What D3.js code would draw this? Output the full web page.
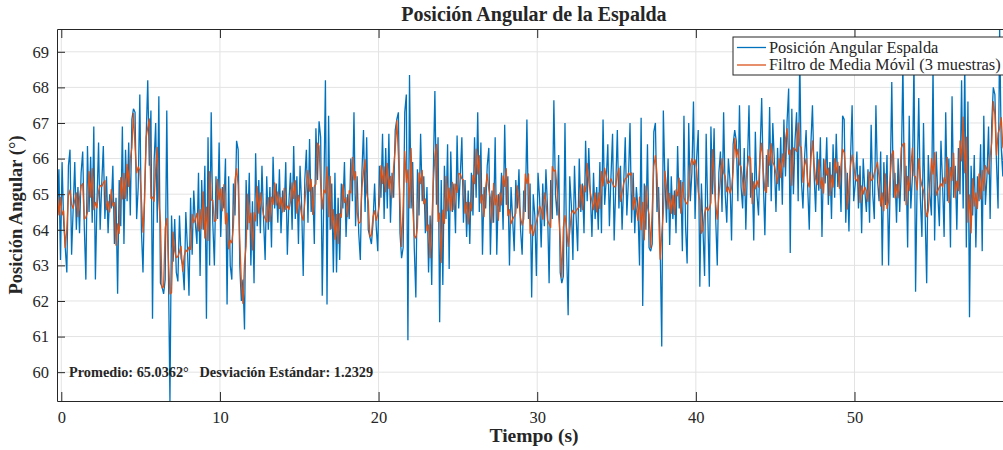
<!DOCTYPE html>
<html>
<head>
<meta charset="utf-8">
<script src="https://cdn.jsdelivr.net/npm/d3@7"></script>
<style>
  body { margin: 0; background: #fff; }
  text { font-family: "Liberation Serif", "Times New Roman", serif; fill: #262626; }
</style>
</head>
<body>
<script>
// Back angle signal, one sample every 0.1 s (one row per second)
const startTime = -0.25;
const sampleStep = 0.1;
const angle = [
  64.4, 65.7, 63.15, 65.9, 64.2, 63.5, 62.8, 65.8, 66.25, 63.3,
  64.6, 65.9, 64.0, 65.2, 63.9, 65.6, 66.2, 64.1, 62.6, 66.35,
  64.5, 66.05, 64.2, 66.9, 62.6, 64.8, 66.45, 64.0, 65.3, 66.35,
  64.3, 65.5, 63.9, 65.0, 64.6, 65.8, 63.6, 64.9, 62.2, 65.4,
  64.1, 66.9, 63.6, 66.25, 64.8, 66.45, 64.4, 67.1, 67.4, 67.3,
  64.3, 65.2, 67.8, 64.0, 62.8, 65.0, 66.6, 68.2, 65.8, 67.35,
  61.5, 65.9, 67.0, 64.2, 67.75, 62.5, 62.4, 62.2, 62.6, 67.35,
  63.0, 59.19, 64.4, 63.1, 64.3, 62.8, 62.55, 64.4, 63.2, 63.0,
  62.3, 64.5, 63.5, 62.15, 64.9, 63.3, 65.1, 64.2, 63.6, 65.6,
  62.7, 65.4, 64.0, 65.8, 61.5, 66.6, 63.0, 67.3, 64.2, 63.0,
  65.5, 64.3, 66.45, 63.8, 65.2, 64.6, 66.0, 61.9, 65.5, 63.0,
  62.6, 65.3, 64.4, 66.5, 66.25, 63.0, 62.0, 62.6, 61.2, 65.4,
  64.0, 65.6, 63.0, 64.8, 62.5, 66.15, 64.1, 65.4, 63.9, 65.8,
  64.3, 63.15, 65.5, 64.0, 65.2, 63.5, 66.05, 64.6, 65.3, 64.2,
  65.7, 63.9, 65.1, 64.5, 65.9, 63.3, 64.8, 65.6, 64.0, 66.35,
  64.3, 65.5, 63.6, 65.8, 64.7, 62.7, 65.4, 66.25, 64.2, 66.55,
  64.5, 65.2, 63.6, 66.85, 65.4, 67.05, 66.6, 62.15, 65.0, 68.2,
  61.9, 67.2, 64.0, 65.3, 62.8, 65.6, 62.8, 64.9, 63.15, 65.3,
  64.6, 65.9, 63.8, 65.0, 64.3, 66.0, 64.8, 67.3, 64.1, 65.5,
  63.9, 63.15, 65.6, 66.8, 64.5, 66.6, 64.0, 63.8, 63.6, 64.2,
  65.3, 64.1, 63.4, 65.8, 64.9, 66.7, 64.3, 66.3, 64.6, 66.7,
  64.2, 65.6, 64.9, 66.8, 67.1, 67.3, 63.9, 63.2, 63.5, 67.3,
  67.8, 60.9, 68.35, 64.6, 65.9, 63.5, 62.1, 65.7, 64.4, 66.7,
  64.8, 65.5, 63.9, 65.2, 62.8, 64.4, 62.45, 65.6, 67.9, 64.7,
  66.6, 61.4, 65.4, 62.45, 65.8, 64.3, 66.4, 62.9, 66.2, 64.5,
  65.3, 63.9, 66.65, 64.6, 65.5, 66.6, 64.2, 65.4, 63.8, 65.1,
  63.6, 65.6, 64.4, 66.6, 64.9, 67.3, 64.5, 66.45, 63.3, 65.2,
  64.6, 65.8, 66.3, 63.3, 65.1, 64.2, 66.6, 63.3, 65.0, 64.5,
  65.6, 64.0, 66.95, 64.7, 65.5, 63.0, 65.2, 64.3, 63.4, 65.4,
  64.6, 65.7, 64.0, 63.3, 65.1, 64.5, 67.1, 64.3, 65.3, 62.1,
  65.0, 64.4, 62.7, 65.6, 64.9, 63.5, 65.3, 64.1, 65.7, 64.6,
  62.5, 65.4, 64.3, 67.64, 65.0, 64.4, 66.1, 62.8, 62.5, 62.7,
  67.0, 63.5, 61.6, 65.5, 64.7, 63.15, 65.8, 64.4, 63.4, 66.0,
  64.5, 65.3, 63.9, 66.5, 64.8, 66.3, 65.0, 63.8, 65.6, 64.3,
  65.2, 64.0, 65.9, 63.9, 67.1, 64.7, 65.4, 66.4, 64.1, 65.5,
  66.7, 63.7, 65.2, 66.8, 64.6, 65.8, 64.0, 65.3, 66.6, 64.4,
  65.4, 67.0, 64.2, 65.6, 63.9, 65.2, 64.6, 63.0, 67.15, 61.86,
  65.3, 64.0, 66.4, 63.5, 63.4, 63.6, 66.75, 67.0, 64.5, 65.2,
  63.6, 60.72, 67.35, 65.4, 64.2, 66.0, 63.57, 65.5, 64.3, 65.1,
  63.9, 66.35, 64.6, 65.4, 63.4, 67.2, 64.1, 63.05, 67.0, 64.8,
  65.6, 67.6, 64.3, 66.0, 66.8, 62.4, 65.3, 64.0, 62.7, 66.7,
  64.5, 62.4, 66.9, 65.0, 66.85, 64.3, 63.0, 65.6, 66.2, 64.5,
  67.3, 65.0, 64.2, 66.0, 65.4, 63.7, 66.4, 66.8, 66.5, 64.8,
  67.5, 65.2, 64.6, 66.3, 64.0, 65.8, 67.5, 64.9, 65.6, 63.7,
  66.75, 65.0, 64.4, 66.2, 67.7, 65.4, 63.85, 66.1, 65.2, 67.45,
  64.8, 67.0, 65.9, 64.5, 66.3, 65.1, 66.6, 64.7, 67.1, 65.5,
  67.05, 67.97, 63.35, 67.4, 65.0, 66.5, 67.3, 64.8, 68.9, 65.4,
  64.6, 66.0, 66.8, 65.2, 64.0, 66.4, 67.5, 65.6, 64.5, 66.2,
  65.1, 66.6, 63.8, 66.0, 65.3, 66.6, 64.7, 65.9, 64.3, 66.4,
  64.9, 66.7, 65.2, 65.8, 64.5, 67.2, 67.1, 64.2, 65.6, 63.95,
  66.0, 67.5, 64.8, 65.3, 66.2, 64.6, 65.8, 63.9, 66.0, 65.1,
  64.5, 65.7, 64.2, 66.95, 65.0, 64.3, 67.5, 65.4, 64.8, 66.2,
  63.0, 65.9, 64.7, 66.1, 63.0, 65.3, 68.15, 64.9, 65.6, 64.2,
  66.0, 64.5, 65.7, 68.7, 64.8, 65.8, 63.5, 67.2, 64.6, 65.5,
  68.8, 62.26, 65.4, 67.7, 64.9, 63.8, 67.0, 64.5, 62.5, 66.1,
  65.0, 64.4, 68.6, 63.7, 66.2, 65.0, 64.1, 66.5, 65.3, 63.8,
  67.3, 64.8, 66.0, 63.5, 67.75, 64.9, 65.8, 64.0, 66.3, 65.0,
  68.2, 64.6, 68.7, 63.5, 67.6, 61.54, 65.8, 64.4, 66.1, 63.5,
  65.5, 64.8, 66.4, 63.4, 67.2, 64.7, 65.5, 66.9, 64.3, 67.0,
  68.0, 67.8, 65.9, 64.6, 69.64, 66.3, 65.5, 67.2, 65.9
];

const xTicks = [0, 10, 20, 30, 40, 50];
const yTicks = [60, 61, 62, 63, 64, 65, 66, 67, 68, 69];
const seriesNames = ["Posición Angular Espalda", "Filtro de Media Móvil (3 muestras)"];
const promedio = 65.0362;
const desviacion = 1.2329;

// Figure size and axes box (right edge falls just outside the window)
const width = 1003;
const height = 450;
const plotLeft = 57, plotRight = 1006, plotTop = 29, plotBottom = 401;

// MATLAB default colours
const blue = "#0072BD";
const orange = "#D95319";
const ink = "#262626";
const gridColor = "#e3e3e3";

// Samples with time, plus the 3-sample moving average (window shrinks at the ends)
const samples = angle.map((v, i) => ({ t: startTime + i * sampleStep, v }));
const filtered = angle.map((_, i) => ({
  t: startTime + i * sampleStep,
  v: d3.mean(angle.slice(Math.max(0, i - 1), i + 2))
}));

const x = d3.scaleLinear().domain([-0.27, 59.55]).range([plotLeft, plotRight]);
const y = d3.scaleLinear().domain([59.19, 69.64]).range([plotBottom, plotTop]);

const svg = d3.select("body").append("svg")
    .attr("width", width)
    .attr("height", height);

svg.append("rect").attr("width", width).attr("height", height).attr("fill", "#fff");

svg.append("clipPath").attr("id", "plot")
  .append("rect")
    .attr("x", plotLeft).attr("y", plotTop)
    .attr("width", plotRight - plotLeft).attr("height", plotBottom - plotTop);

// Grid
const grid = svg.append("g").attr("stroke", gridColor).attr("stroke-width", 1);
grid.selectAll(".gx").data(xTicks).join("line")
    .attr("x1", d => x(d)).attr("x2", d => x(d))
    .attr("y1", plotTop).attr("y2", plotBottom);
grid.selectAll(".gy").data(yTicks).join("line")
    .attr("x1", plotLeft).attr("x2", plotRight)
    .attr("y1", d => y(d)).attr("y2", d => y(d));

// Lines
const line = d3.line().x(d => x(d.t)).y(d => y(d.v));
const plot = svg.append("g").attr("clip-path", "url(#plot)").attr("fill", "none");
plot.append("path").datum(samples)
    .attr("d", line).attr("stroke", blue).attr("stroke-width", 1.3)
    .attr("stroke-linejoin", "miter").attr("stroke-miterlimit", 2);
plot.append("path").datum(filtered)
    .attr("d", line).attr("stroke", orange).attr("stroke-width", 1.3)
    .attr("stroke-linejoin", "round");

// Axes, ticks pointing inwards
function styleAxis(g) {
  g.selectAll("path, line").attr("stroke", ink);
  g.selectAll("text").attr("font-size", 16.5).attr("fill", ink)
    .attr("font-family", '"Liberation Serif", serif');
}
svg.append("g").attr("transform", `translate(0,${plotBottom})`)
    .call(d3.axisBottom(x).tickValues(xTicks).tickSize(-9).tickSizeOuter(0).tickPadding(10))
    .call(styleAxis);
svg.append("g").attr("transform", `translate(0,${plotTop})`)
    .call(d3.axisTop(x).tickValues(xTicks).tickSize(-9).tickSizeOuter(0).tickFormat(""))
    .call(styleAxis);
svg.append("g").attr("transform", `translate(${plotLeft},0)`)
    .call(d3.axisLeft(y).tickValues(yTicks).tickSize(-8).tickSizeOuter(0).tickPadding(8))
    .call(styleAxis);
svg.append("line")
    .attr("x1", plotRight).attr("x2", plotRight).attr("y1", plotTop).attr("y2", plotBottom)
    .attr("stroke", ink);

// Title and labels
svg.append("text")
    .attr("x", 534).attr("y", 21)
    .attr("text-anchor", "middle").attr("font-size", 20).attr("font-weight", "bold")
    .text("Posición Angular de la Espalda");
svg.append("text")
    .attr("x", 534).attr("y", 442)
    .attr("text-anchor", "middle").attr("font-size", 19.5).attr("font-weight", "bold")
    .text("Tiempo (s)");
svg.append("text")
    .attr("transform", `translate(22,${(plotTop + plotBottom) / 2}) rotate(-90)`)
    .attr("text-anchor", "middle").attr("font-size", 18.5).attr("font-weight", "bold")
    .text("Posición Angular (°)");

// Statistics note
svg.append("text")
    .attr("x", 69).attr("y", 377)
    .attr("font-size", 14.3).attr("font-weight", "bold").attr("fill", "#000")
    .attr("xml:space", "preserve")
    .text(`Promedio: ${promedio.toFixed(4)}°   Desviación Estándar: ${desviacion.toFixed(4)}`);

// Legend
const legend = svg.append("g");
legend.append("rect")
    .attr("x", 733).attr("y", 37).attr("width", 272).attr("height", 38)
    .attr("fill", "#fff").attr("stroke", ink).attr("stroke-width", 1);
legend.selectAll("g").data(seriesNames).join("g")
    .attr("transform", (d, i) => `translate(0,${47.5 + i * 17.5})`)
    .each(function(d, i) {
      const g = d3.select(this);
      g.append("line").attr("x1", 737).attr("x2", 766)
        .attr("stroke", i === 0 ? blue : orange).attr("stroke-width", 1.3);
      g.append("text").attr("x", 769).attr("dy", "0.32em")
        .attr("font-size", 16.4).text(d);
    });
</script>
</body>
</html>
